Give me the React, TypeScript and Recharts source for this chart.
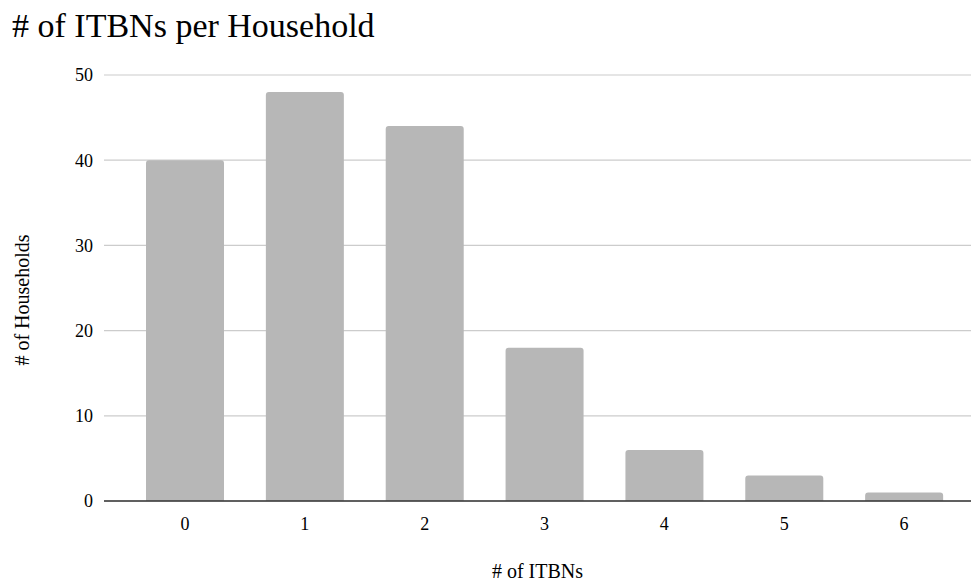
import { BarChart, Bar, XAxis, YAxis, CartesianGrid } from "recharts"

const itbnCounts = ["0", "1", "2", "3", "4", "5", "6"]
const households = [40, 48, 44, 18, 6, 3, 1]
const yTicks = [0, 10, 20, 30, 40, 50]

const data = itbnCounts.map((c, i) => ({ itbns: c, households: households[i] }))

const serif = '"Liberation Serif", "Times New Roman", serif'

// rotated y title, centred a bit below plot middle like the original
const YTitle = (props: any) => {
  const vb = props.viewBox || {}
  const cx = 22
  const cy = vb.y + vb.height / 2 + 12
  return (
    <text
      x={cx}
      y={cy}
      transform={`rotate(-90, ${cx}, ${cy})`}
      textAnchor="middle"
      dominantBaseline="central"
      fontSize={20}
      fontFamily={serif}
      fill="#000"
    >
      # of Households
    </text>
  )
}

export default function App() {
  return (
    <div
      style={{
        position: "absolute",
        top: 0,
        left: 0,
        width: 972,
        height: 582,
        background: "#fff",
        fontFamily: serif,
      }}
    >
      <div
        style={{
          position: "absolute",
          left: 12,
          top: 9,
          fontSize: 34,
          lineHeight: "34px",
          color: "#000",
          whiteSpace: "nowrap",
        }}
      >
        # of ITBNs per Household
      </div>
      <BarChart
        width={972}
        height={582}
        data={data}
        margin={{ top: 75, right: 1, left: 0, bottom: 0 }}
      >
        <CartesianGrid vertical={false} stroke="#cccccc" strokeWidth={1.2} />
        <XAxis
          dataKey="itbns"
          height={81}
          padding={{ left: 21, right: 7 }}
          tickLine={false}
          tickSize={0}
          tickMargin={16}
          axisLine={{ stroke: "#333333", strokeWidth: 1.6 }}
          tick={{ fontSize: 18, fill: "#000", fontFamily: serif }}
          label={{
            value: "# of ITBNs",
            position: "insideBottom",
            offset: 4,
            fontSize: 20,
            fill: "#000",
            fontFamily: serif,
          }}
        />
        <YAxis
          width={104}
          domain={[0, 50]}
          ticks={yTicks}
          axisLine={false}
          tickLine={false}
          tickSize={0}
          tickMargin={11}
          tick={{ fontSize: 18, fill: "#000", fontFamily: serif }}
          label={<YTitle />}
        />
        <Bar
          dataKey="households"
          fill="#b7b7b7"
          barSize={78}
          radius={[3, 3, 0, 0]}
          isAnimationActive={false}
        />
      </BarChart>
    </div>
  )
}
